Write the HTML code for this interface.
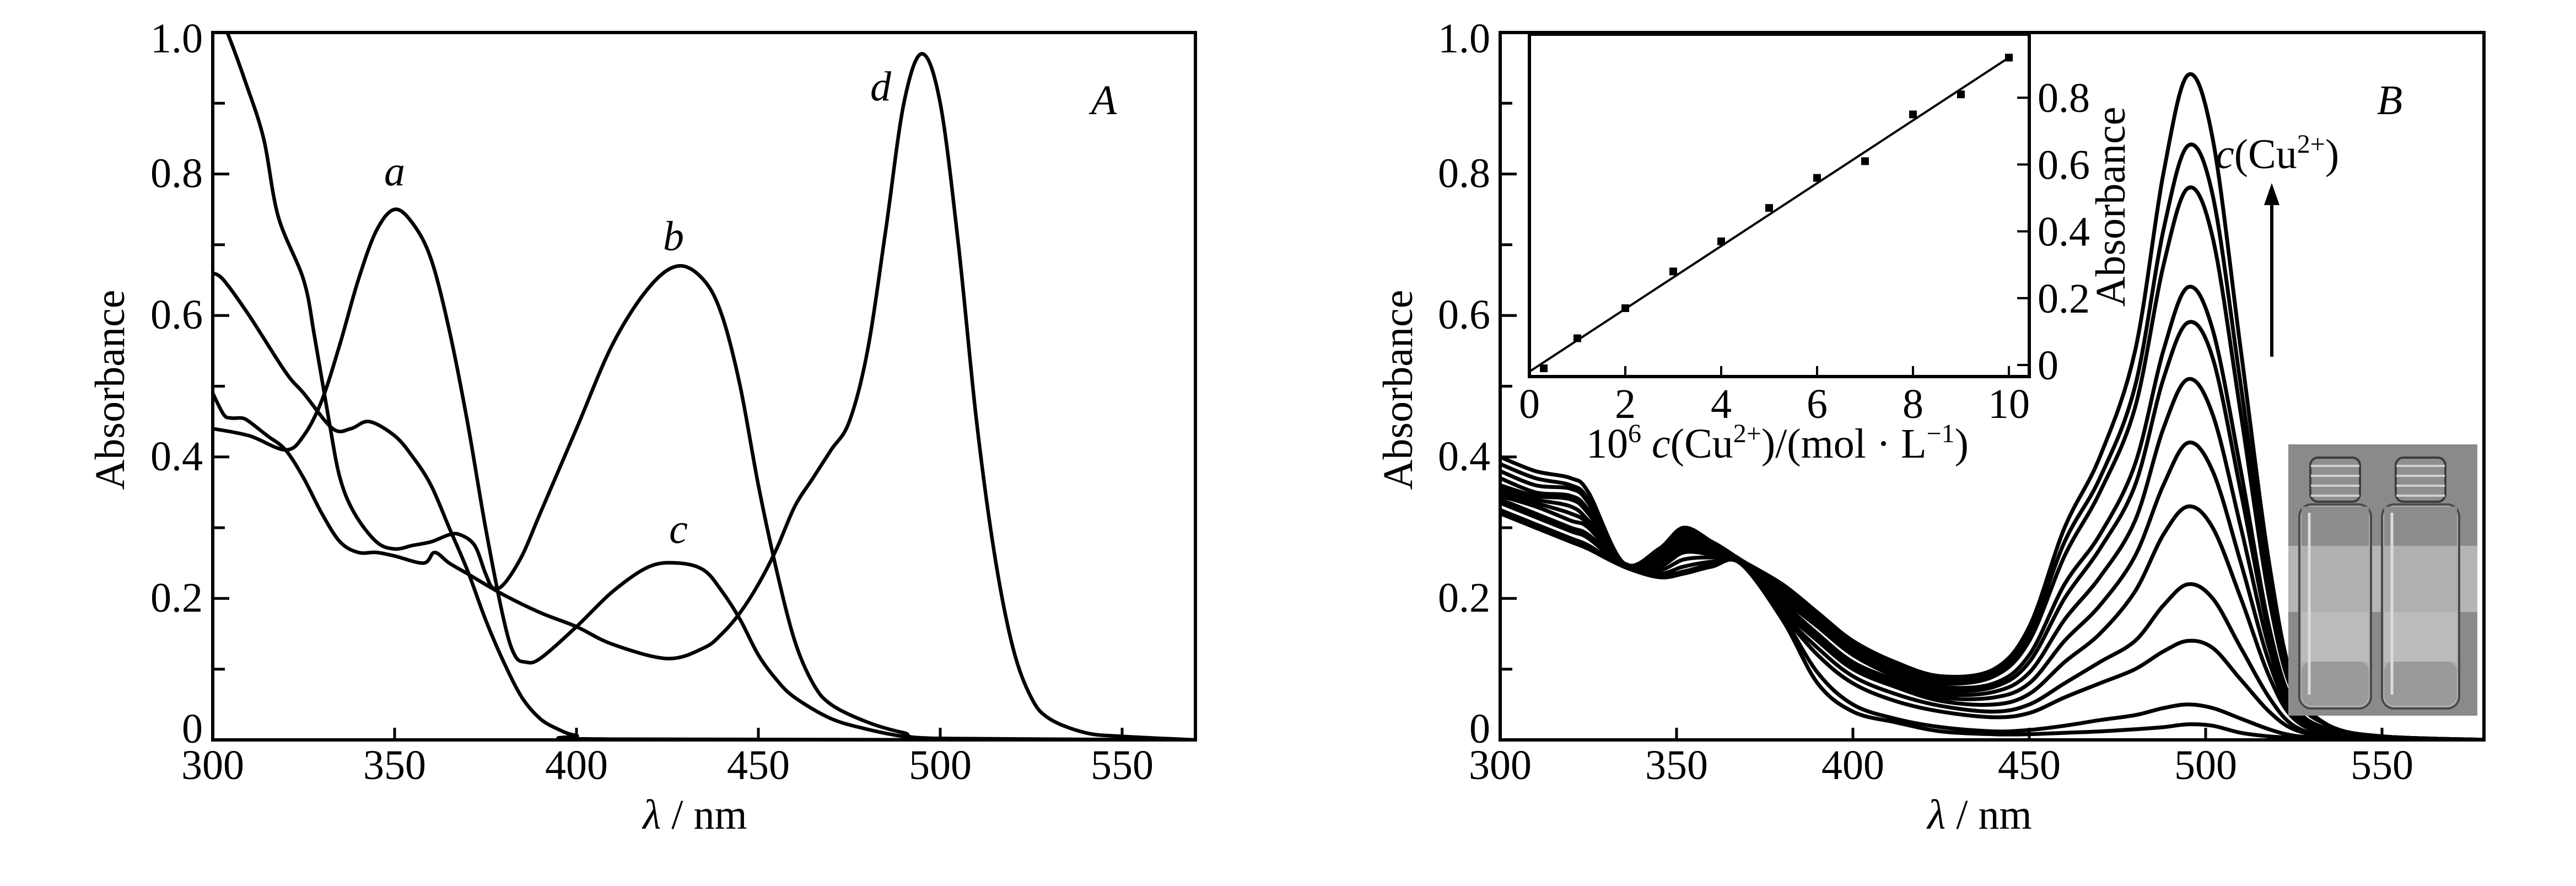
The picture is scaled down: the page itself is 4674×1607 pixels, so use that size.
<!DOCTYPE html>
<html><head><meta charset="utf-8"><style>
html,body{margin:0;padding:0;background:#fff;}
svg{display:block;}
svg text, svg tspan{font-family:"Liberation Serif","Times New Roman",serif !important;fill:#000;}
</style></head><body>
<svg id="fig" width="4674" height="1607" viewBox="0 0 4674 1607" xmlns="http://www.w3.org/2000/svg" font-family="Liberation Serif, serif">
<defs>
<clipPath id="clipA"><rect x="386" y="59" width="1783" height="1283"/></clipPath>
<clipPath id="clipB"><rect x="2722" y="59" width="1785" height="1283"/></clipPath>
</defs>
<g id="panelA"></g>
<g id="panelB"></g>
</svg>
<script>
// ---------- Panel A data ----------
const aW=[300,310,320,325,330,335,340,345,350,355,360,365,370,375,380,383,386,390,400,410,420,428,435,440,445,450,455,460,470,480,490,500,570];
const aV=[0.44,0.43,0.41,0.43,0.48,0.56,0.65,0.72,0.75,0.73,0.68,0.58,0.45,0.30,0.17,0.12,0.11,0.115,0.16,0.21,0.245,0.25,0.24,0.21,0.17,0.12,0.085,0.06,0.03,0.015,0.005,0.002,0];
const bW=[302,304,309,314,318,325,328,332,335,339,345,350,355,360,365,368,372,375,377,380,385,390,400,410,420,428,435,440,445,450,455,460,465,470,480,490,500,570];
const bV=[1.02,1.0,0.93,0.85,0.74,0.65,0.57,0.45,0.37,0.32,0.28,0.27,0.275,0.28,0.29,0.29,0.275,0.235,0.215,0.22,0.26,0.32,0.44,0.56,0.64,0.67,0.65,0.6,0.5,0.36,0.24,0.14,0.08,0.05,0.025,0.01,0.002,0];
const cW=[300,303,310,320,325,333,338,343,350,355,360,365,370,375,380,385,390,395,400,410,570];
const cV=[0.66,0.65,0.60,0.52,0.49,0.44,0.44,0.45,0.43,0.40,0.36,0.30,0.24,0.17,0.11,0.06,0.03,0.015,0.006,0.001,0];
const dW=[300,303,305,308,310,315,320,325,330,335,340,345,350,358,361,365,370,380,390,400,410,425,435,440,445,450,455,460,465,470,475,480,485,490,495,500,505,510,515,520,525,530,540,550,570];
const dV=[0.49,0.46,0.455,0.455,0.45,0.43,0.41,0.37,0.32,0.28,0.265,0.265,0.26,0.25,0.265,0.25,0.235,0.205,0.18,0.16,0.135,0.115,0.13,0.15,0.18,0.22,0.27,0.33,0.37,0.41,0.45,0.55,0.72,0.9,0.97,0.9,0.7,0.45,0.26,0.13,0.06,0.03,0.01,0.005,0];
const xTicksA=[300,350,400,450,500,550];
const yTicks=[0,0.2,0.4,0.6,0.8,1.0];
const yTickLabels=["0","0.2","0.4","0.6","0.8","1.0"];

// ---------- Panel B data ----------
const bWl=[300,310,320,325,335,345,352,360,368,380,390,400,412,425,440,450,460,470,480,488,495,502,510,518,525,535,550,580];
const s1=[0.40,0.38,0.37,0.35,0.25,0.27,0.30,0.28,0.255,0.22,0.18,0.14,0.11,0.09,0.10,0.16,0.30,0.40,0.55,0.80,0.94,0.85,0.55,0.25,0.08,0.02,0.005,0];
const s2=[0.39,0.37,0.36,0.34,0.25,0.265,0.295,0.28,0.255,0.215,0.175,0.135,0.105,0.085,0.095,0.15,0.28,0.37,0.50,0.72,0.84,0.77,0.50,0.22,0.07,0.02,0.005,0];
const s3=[0.38,0.36,0.355,0.335,0.25,0.262,0.29,0.275,0.255,0.21,0.17,0.13,0.10,0.08,0.09,0.14,0.26,0.35,0.47,0.67,0.78,0.71,0.46,0.20,0.065,0.02,0.005,0];
const s4=[0.37,0.35,0.345,0.325,0.25,0.258,0.285,0.272,0.255,0.205,0.165,0.125,0.095,0.075,0.08,0.12,0.22,0.29,0.39,0.55,0.64,0.58,0.38,0.16,0.05,0.015,0.004,0];
const s5=[0.36,0.345,0.34,0.32,0.25,0.255,0.28,0.27,0.255,0.2,0.16,0.12,0.09,0.07,0.075,0.11,0.20,0.27,0.36,0.51,0.59,0.54,0.35,0.15,0.045,0.012,0.004,0];
const s6=[0.355,0.34,0.33,0.31,0.25,0.252,0.275,0.268,0.255,0.195,0.15,0.11,0.085,0.065,0.068,0.095,0.17,0.23,0.31,0.44,0.51,0.46,0.30,0.13,0.04,0.01,0.003,0];
const s7=[0.35,0.335,0.32,0.305,0.248,0.25,0.27,0.265,0.255,0.19,0.145,0.105,0.08,0.06,0.06,0.08,0.14,0.19,0.26,0.36,0.42,0.38,0.25,0.11,0.035,0.01,0.003,0];
const s8=[0.345,0.33,0.31,0.30,0.248,0.245,0.265,0.262,0.255,0.185,0.14,0.10,0.075,0.055,0.05,0.065,0.11,0.15,0.21,0.29,0.33,0.30,0.20,0.09,0.03,0.008,0.002,0];
const s9=[0.34,0.32,0.30,0.29,0.247,0.24,0.255,0.258,0.255,0.18,0.13,0.09,0.065,0.048,0.04,0.05,0.08,0.11,0.14,0.19,0.22,0.20,0.13,0.06,0.02,0.005,0.002,0];
const s10=[0.335,0.315,0.295,0.285,0.246,0.235,0.245,0.252,0.253,0.178,0.12,0.08,0.055,0.04,0.032,0.038,0.06,0.08,0.10,0.125,0.14,0.13,0.085,0.04,0.015,0.004,0.001,0];
const s11=[0.325,0.305,0.285,0.275,0.245,0.232,0.238,0.248,0.252,0.175,0.095,0.05,0.03,0.018,0.012,0.014,0.02,0.028,0.035,0.045,0.05,0.045,0.03,0.015,0.006,0.002,0,0];
const s12=[0.32,0.30,0.28,0.27,0.245,0.23,0.235,0.245,0.25,0.17,0.08,0.04,0.025,0.012,0.008,0.008,0.01,0.012,0.015,0.018,0.022,0.02,0.01,0.005,0.003,0,0,0];
const xTicksB=[300,350,400,450,500,550];

// ---------- Inset data ----------
const insX=[0.3,1,2,3,4,5,6,7,8,9,10];
const insY=[-0.01,0.08,0.17,0.28,0.37,0.47,0.56,0.61,0.75,0.81,0.92];
const insLineX=[0,10];
const insLineY=[-0.02,0.92];
const insXTicks=[0,2,4,6,8,10];
const insYTicks=[0,0.2,0.4,0.6,0.8];
const insYLabels=["0","0.2","0.4","0.6","0.8"];

const NS="http://www.w3.org/2000/svg";
const FF="Liberation Serif, Times New Roman, serif";
function mk(tag,attrs,parent){const e=document.createElementNS(NS,tag);for(const k in attrs)e.setAttribute(k,attrs[k]);if(tag==='text')e.setAttribute('font-family',FF);parent.appendChild(e);return e;}
function smooth(pts){
  let d="M"+pts[0][0].toFixed(1)+","+pts[0][1].toFixed(1);
  for(let i=0;i<pts.length-1;i++){
    const p0=pts[i-1]||pts[i],p1=pts[i],p2=pts[i+1],p3=pts[i+2]||p2;
    const c1x=p1[0]+(p2[0]-p0[0])/6,c1y=p1[1]+(p2[1]-p0[1])/6;
    const c2x=p2[0]-(p3[0]-p1[0])/6,c2y=p2[1]-(p3[1]-p1[1])/6;
    d+="C"+c1x.toFixed(1)+","+c1y.toFixed(1)+" "+c2x.toFixed(1)+","+c2y.toFixed(1)+" "+p2[0].toFixed(1)+","+p2[1].toFixed(1);
  }
  return d;
}

// ===== Panel A =====
const gA=document.getElementById('panelA');
const AX=v=>386+(v-300)*6.6;
const AY=v=>1342-v*1283;
const xsA=[aW,bW,cW,dW], ysA=[aV,bV,cV,dV], namesA=['curve-a','curve-b','curve-c','curve-d'];
const cgA=mk('g',{'clip-path':'url(#clipA)'},gA);
for(let s=0;s<4;s++){
  const pts=xsA[s].map((w,i)=>[AX(w),AY(ysA[s][i])]);
  const p=mk('path',{d:smooth(pts),fill:'none',stroke:'#000','stroke-width':6.5,'stroke-linejoin':'round'},cgA);
  
  
}
function frame(g,x0,y0,x1,y1,name){
  const r=mk('rect',{x:x0,y:y0,width:x1-x0,height:y1-y0,fill:'none',stroke:'#000','stroke-width':6},g);
  
  
}
frame(gA,386,59,2169,1342,'plot-frame-a');
function axes(g,X,Y,xt,x0,x1){
  xt.forEach(v=>{
    const t=mk('line',{x1:X(v),x2:X(v),y1:1342,y2:1320,stroke:'#000','stroke-width':5},g);
    
    
    const l=mk('text',{x:X(v),y:1413,'font-size':76,'text-anchor':'middle'},g);
    l.textContent=String(v);
    
    
  });
  for(let k=1;k<10;k++){
    const v=k/10;
    const t=mk('line',{x1:x0,x2:x0+(k%2==0?30:22),y1:Y(v),y2:Y(v),stroke:'#000','stroke-width':5},g);
    
    
  }
  yTicks.forEach((v,i)=>{
    let yy=Y(v)+24; if(i==0) yy=Y(v)+5; if(i==yTicks.length-1) yy=Y(v)+36;
    const l=mk('text',{x:x0-18,y:yy,'font-size':76,'text-anchor':'end'},g);
    l.textContent=yTickLabels[i];
    
    
  });
}
axes(gA,AX,AY,xTicksA,386,2169);
function label(g,x,y,txt,size,name,italic,anchor,rot){
  const a={x:x,y:y,'font-size':size,'text-anchor':anchor||'middle'};
  if(italic===true)a['font-style']='italic';
  if(rot)a.transform='rotate(-90 '+x+' '+y+')';
  const t=mk('text',a,g);t.textContent=txt;
  
  
  return t;
}
label(gA,225,707,'Absorbance',76,'y-axis-title-a',false,'middle',true);
const xtA=label(gA,1261,1503,'',76,'x-axis-title-a');
mk('tspan',{'font-style':'italic'},xtA).textContent='λ';
mk('tspan',{},xtA).textContent=' / nm';
label(gA,716,336,'a',76,'label-a',true);
label(gA,1222,454,'b',76,'label-b',true);
label(gA,1231,985,'c',76,'label-c',true);
label(gA,1598,182,'d',76,'label-d',true);
label(gA,2003,207,'A',76,'panel-label-a',true);

// ===== Panel B =====
const gB=document.getElementById('panelB');
const BX=v=>2722+(v-300)*6.4;
const BY=v=>1342-v*1283;
const seriesB=[s1,s2,s3,s4,s5,s6,s7,s8,s9,s10,s11,s12];
const cgB=mk('g',{'clip-path':'url(#clipB)'},gB);
seriesB.forEach((s,k)=>{
  const pts=bWl.map((w,i)=>[BX(w),BY(s[i])]);
  const p=mk('path',{d:smooth(pts),fill:'none',stroke:'#000','stroke-width':7,'stroke-linejoin':'round'},cgB);
  
  
});
frame(gB,2722,59,4507,1342,'plot-frame-b');
axes(gB,BX,BY,xTicksB,2722,4507);
label(gB,2562,707,'Absorbance',76,'y-axis-title-b',false,'middle',true);
const xtB=label(gB,3592,1503,'',76,'x-axis-title-b');
mk('tspan',{'font-style':'italic'},xtB).textContent='λ';
mk('tspan',{},xtB).textContent=' / nm';
label(gB,4336,207,'B',76,'panel-label-b',true);
const cu=label(gB,4020,305,'',76,'concentration-label',false,'start');
mk('tspan',{'font-style':'italic'},cu).textContent='c';
mk('tspan',{},cu).textContent='(Cu';
mk('tspan',{'font-size':48,dy:-28},cu).textContent='2+';
mk('tspan',{dy:28},cu).textContent=')';
const ar=mk('line',{x1:4122,y1:647,x2:4122,y2:365,stroke:'#000','stroke-width':6},gB);


const ah=mk('polygon',{points:'4122,332 4108,372 4136,372',fill:'#000'},gB);



// ----- Inset -----
const gI=mk('g',{},gB);


const IX=v=>2775+v*87;
const IY=v=>662-v*606;
frame(gI,2775,62,3682,683,'inset-frame');
insXTicks.forEach(v=>{
  const t=mk('line',{x1:IX(v),x2:IX(v),y1:683,y2:664,stroke:'#000','stroke-width':4},gI);
  
  
  const l=mk('text',{x:IX(v),y:758,'font-size':76,'text-anchor':'middle'},gI);
  l.textContent=String(v);
  
  
});
insYTicks.forEach((v,i)=>{
  const t=mk('line',{x1:3682,x2:3660,y1:IY(v),y2:IY(v),stroke:'#000','stroke-width':4},gI);
  
  
  const l=mk('text',{x:3697,y:IY(v)+26,'font-size':76,'text-anchor':'start'},gI);
  l.textContent=insYLabels[i];
  
  
});
const fl=mk('line',{x1:IX(insLineX[0]),y1:IY(insLineY[0]),x2:IX(insLineX[1]),y2:IY(insLineY[1]),stroke:'#000','stroke-width':4},gI);


insX.forEach((x,i)=>{
  const m=mk('rect',{x:IX(x)-7,y:IY(insY[i])-7,width:14,height:14,fill:'#000'},gI);
  
  
});
const ixt=label(gI,3225,830,'',76,'inset-x-axis-title');
mk('tspan',{},ixt).textContent='10';
mk('tspan',{'font-size':48,dy:-28},ixt).textContent='6';
mk('tspan',{'font-style':'italic',dy:28},ixt).textContent=' c';
mk('tspan',{},ixt).textContent='(Cu';
mk('tspan',{'font-size':48,dy:-28},ixt).textContent='2+';
mk('tspan',{dy:28},ixt).textContent=')/(mol · L';
mk('tspan',{'font-size':48,dy:-28},ixt).textContent='−1';
mk('tspan',{dy:28},ixt).textContent=')';
label(gI,3855,375,'Absorbance',76,'inset-y-axis-title',false,'middle',true);

// ----- Photo inset -----
const gP=mk('g',{},gB);


mk('rect',{x:4152,y:806,width:343,height:492,fill:'#8a8a8a'},gP);
mk('rect',{x:4152,y:990,width:343,height:120,fill:'#b5b5b5'},gP);
[[4172,4302],[4322,4462]].forEach(([a,b])=>{
  const v=mk('g',{},gP);
  
  
  const cx=(a+b)/2;
  mk('rect',{x:cx-45,y:830,width:90,height:80,rx:14,fill:'#8f8f8f',stroke:'#3c3c3c','stroke-width':4},v);
  for(let k=0;k<4;k++) mk('line',{x1:cx-44,x2:cx+44,y1:845+k*18,y2:845+k*18,stroke:'#d0d0d0','stroke-width':4},v);
  mk('rect',{x:a,y:915,width:b-a,height:370,rx:22,fill:'#b0b0b0',stroke:'#4a4a4a','stroke-width':4},v);
  mk('rect',{x:a+4,y:919,width:b-a-8,height:71,fill:'#8c8c8c'},v);
  mk('rect',{x:a+4,y:1110,width:b-a-8,height:90,fill:'#bcbcbc'},v);
  mk('rect',{x:a+4,y:1200,width:b-a-8,height:80,rx:18,fill:'#9a9a9a'},v);
  mk('line',{x1:a+18,x2:a+18,y1:930,y2:1260,stroke:'#dcdcdc','stroke-width':5},v);
});
</script>
</body></html>
